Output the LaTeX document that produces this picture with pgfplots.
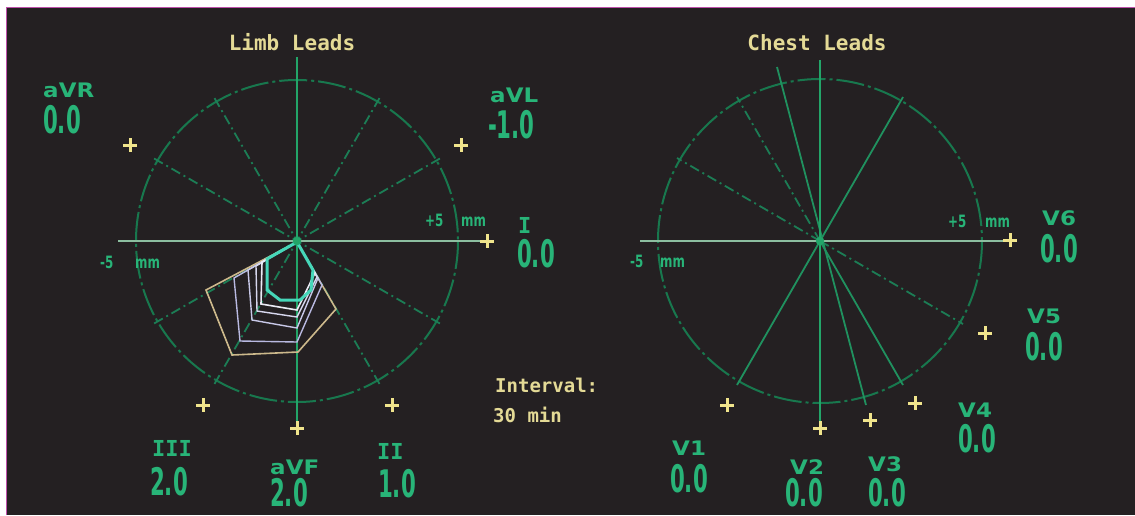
\documentclass[border=0pt]{standalone}
\usepackage{pgfplots}
\pgfplotsset{compat=1.18}
\usepackage{fontspec}
\setmainfont{DejaVu Sans}
\newfontfamily\monofont{DejaVu Sans Mono}

\definecolor{bg}{RGB}{36,32,34}
\definecolor{frame}{RGB}{190,80,170}
\definecolor{labgreen}{RGB}{40,180,120}
\definecolor{ringgreen}{RGB}{24,120,78}
\definecolor{spoke}{RGB}{28,125,85}
\definecolor{spokesolid}{RGB}{32,145,95}
\definecolor{vaxis}{RGB}{35,165,105}
\definecolor{haxis}{RGB}{140,190,160}
\definecolor{plusyellow}{RGB}{240,228,140}
\definecolor{titleyellow}{RGB}{228,218,150}
\definecolor{tan}{RGB}{205,185,140}
\definecolor{lavA}{RGB}{185,185,225}
\definecolor{lavB}{RGB}{200,200,232}
\definecolor{lavC}{RGB}{215,215,238}
\definecolor{whiteD}{RGB}{235,235,245}
\definecolor{cyanE}{RGB}{70,215,185}

\begin{document}
\begin{tikzpicture}[
  lbl/.style={text=labgreen, font=\fontsize{20}{20}\selectfont\bfseries,
    anchor=base west, inner sep=0pt, xscale=1.15},
  roman/.style={text=labgreen, font=\fontsize{22}{22}\selectfont\monofont\bfseries,
    anchor=base west, inner sep=0pt},
  val/.style={text=labgreen, font=\fontsize{38}{38}\selectfont\bfseries,
    anchor=base west, inner sep=0pt, xscale=0.56},
  mm/.style={text=labgreen, font=\fontsize{17}{17}\selectfont\bfseries,
    anchor=base west, inner sep=0pt, xscale=0.7},
  ttl/.style={text=titleyellow, font=\fontsize{21}{21}\selectfont\monofont\bfseries,
    anchor=base, inner sep=0pt},
  itl/.style={text=titleyellow, font=\fontsize{19}{19}\selectfont\monofont\bfseries,
    anchor=base west, inner sep=0pt},
  ring/.style={ringgreen, line width=2pt, dash pattern=on 28pt off 4pt on 3pt off 4pt},
  dd/.style={spoke, line width=1.8pt, dash pattern=on 10pt off 4pt on 2pt off 4pt},
]
\begin{axis}[x=1pt, y=1pt, y dir=reverse,
  xmin=0, xmax=1135, ymin=0, ymax=515,
  hide axis, clip=false]
% background and frame
\fill[white] (axis cs:0,0) rectangle (axis cs:1135,515);
\fill[bg] (axis cs:7,8) rectangle (axis cs:1135,515);
\draw[frame, line width=1.5pt] (axis cs:6.5,515) -- (axis cs:6.5,7.5) -- (axis cs:1135,7.5);

% ---------- limb leads ----------
\draw[ring] (axis cs:297,241) circle[radius=161];
\addplot[dd] coordinates {(439.9,158.5) (154.1,323.5)};
\addplot[dd] coordinates {(379.5,98.1) (214.5,383.9)};
\addplot[dd] coordinates {(214.5,98.1) (379.5,383.9)};
\addplot[dd] coordinates {(154.1,158.5) (439.9,323.5)};
\addplot[haxis, line width=1.5pt] coordinates {(118,241) (484,241)};
\addplot[vaxis, line width=2pt] coordinates {(297,57) (297,427)};

% ST loops
\addplot[tan, line width=1.6pt] coordinates {(297,242) (206,290) (232,355) (298,352) (336,309) (297,242)};
\addplot[lavA, line width=1.4pt] coordinates {(297,242) (234,278) (240,341) (297,342) (322,285) (297,242)};
\addplot[lavB, line width=1.4pt] coordinates {(297,242) (248,270) (252,320) (297,328) (318,278) (297,242)};
\addplot[lavC, line width=1.4pt] coordinates {(297,242) (256,266) (257,311) (297,317) (317,277) (297,242)};
\addplot[whiteD, line width=1.6pt] coordinates {(297,242) (262,262) (261,304) (297,310) (315,273) (297,242)};
\addplot[cyanE, line width=3pt] coordinates {(297,242) (267,259) (267,290) (280,300) (300,300) (311,290) (313,270) (297,242)};
\addplot[only marks, mark=*, mark size=4, vaxis] coordinates {(297,241)};

\addplot[only marks, mark=+, mark size=7, plusyellow, mark options={line width=3pt}]
  coordinates {(130,145) (461,145) (487,241) (392,405) (297,428) (203,405)};

\node[ttl] at (axis cs:292,50) {Limb Leads};
\node[lbl] at (axis cs:43,97) {aVR};
\node[val] at (axis cs:43,133) {0.0};
\node[lbl] at (axis cs:490,102) {aVL};
\node[val] at (axis cs:488,138) {-1.0};
\node[roman] at (axis cs:518,233) {I};
\node[val] at (axis cs:517,267) {0.0};
\node[roman] at (axis cs:152,456) {III};
\node[val] at (axis cs:150,495) {2.0};
\node[lbl] at (axis cs:270,474) {aVF};
\node[val] at (axis cs:270,506) {2.0};
\node[roman] at (axis cs:377,459) {II};
\node[val] at (axis cs:378,497) {1.0};
\node[mm] at (axis cs:425,226) {+5};
\node[mm] at (axis cs:461,226) {mm};
\node[mm] at (axis cs:100,268) {-5};
\node[mm] at (axis cs:135,268) {mm};

\node[itl] at (axis cs:495,392) {Interval:};
\node[itl] at (axis cs:493,422) {30 min};

% ---------- chest leads ----------
\draw[ring] (axis cs:820,241) circle[radius=162];
\addplot[dd] coordinates {(820,241) (737,97)};
\addplot[dd] coordinates {(820,241) (677,158)};
\addplot[dd] coordinates {(820,241) (963,324)};
\addplot[spokesolid, line width=1.8pt] coordinates {(903,97) (737,385)};
\addplot[spokesolid, line width=1.8pt] coordinates {(777,67) (866,405)};
\addplot[spokesolid, line width=1.8pt] coordinates {(820,241) (903,385)};
\addplot[haxis, line width=1.5pt] coordinates {(640,241) (1007,241)};
\addplot[vaxis, line width=2pt] coordinates {(820,60) (820,427)};
\addplot[only marks, mark=*, mark size=4, vaxis] coordinates {(820,241)};

\addplot[only marks, mark=+, mark size=7, plusyellow, mark options={line width=3pt}]
  coordinates {(727,405) (820,428) (870,420) (915,403) (985,333) (1010,240)};

\node[ttl] at (axis cs:817,50) {Chest Leads};
\node[lbl] at (axis cs:672,455) {V1};
\node[val] at (axis cs:670,492) {0.0};
\node[lbl] at (axis cs:790,474) {V2};
\node[val] at (axis cs:785,506) {0.0};
\node[lbl] at (axis cs:868,471) {V3};
\node[val] at (axis cs:868,506) {0.0};
\node[lbl] at (axis cs:958,417) {V4};
\node[val] at (axis cs:958,452) {0.0};
\node[lbl] at (axis cs:1027,323) {V5};
\node[val] at (axis cs:1025,360) {0.0};
\node[lbl] at (axis cs:1042,225) {V6};
\node[val] at (axis cs:1040,262) {0.0};
\node[mm] at (axis cs:948,227) {+5};
\node[mm] at (axis cs:985,227) {mm};
\node[mm] at (axis cs:630,267) {-5};
\node[mm] at (axis cs:660,267) {mm};
\end{axis}
\pgfresetboundingbox
\path[use as bounding box] (0,0) rectangle (1135pt,515pt);
\end{tikzpicture}
\end{document}
